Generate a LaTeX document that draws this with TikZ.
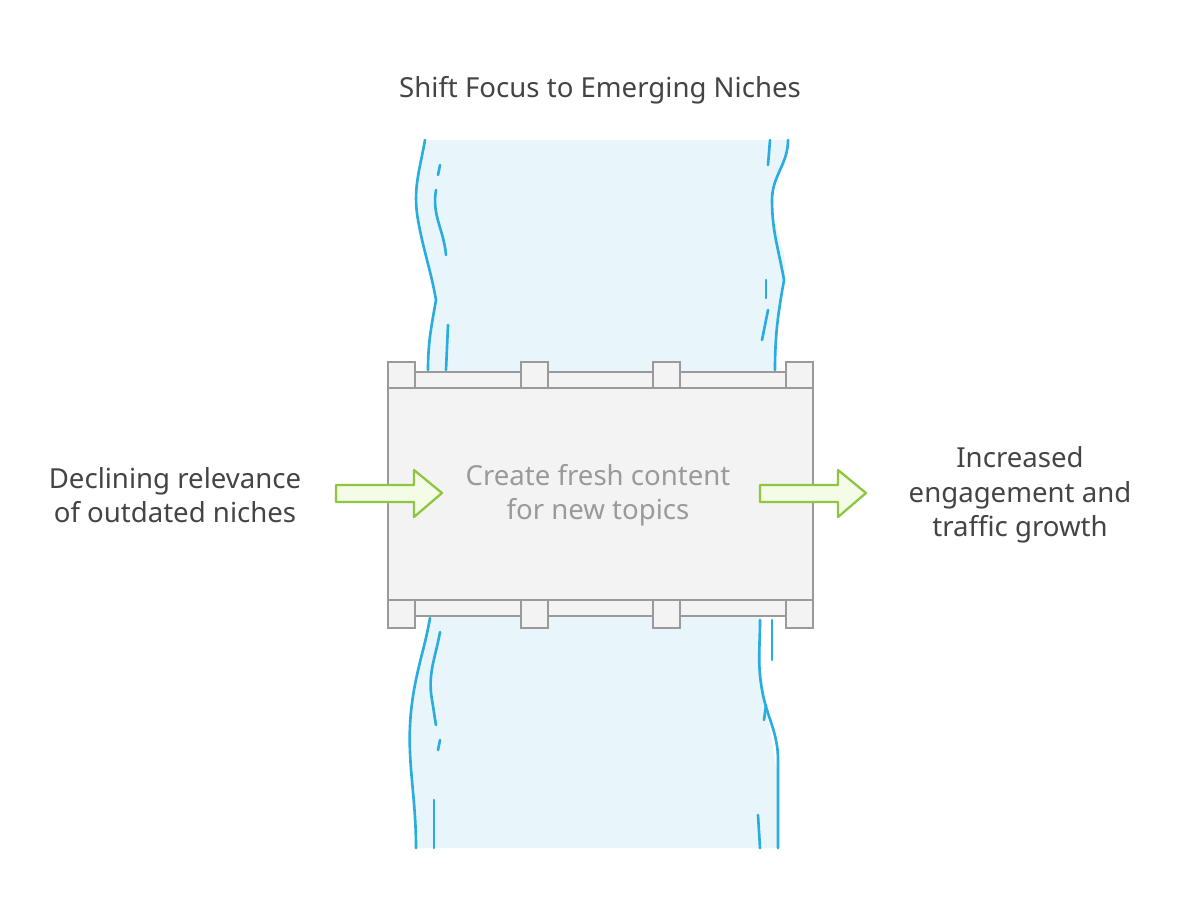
\documentclass[tikz,border=0pt]{standalone}
\usepackage{fontspec}
\setmainfont{Noto Sans}
\usetikzlibrary{calc}
\definecolor{water}{HTML}{E8F6FC}
\definecolor{bank}{HTML}{2AACDF}
\definecolor{deck}{HTML}{F3F3F3}
\definecolor{rim}{HTML}{9A9A9A}
\definecolor{arrowgreen}{HTML}{8DC63F}
\definecolor{arrowfill}{HTML}{F4FBE6}
\definecolor{ink}{HTML}{444444}
\tikzset{
  bankline/.style={bank, line width=1.5pt, line cap=round},
  post/.style={fill=deck, draw=rim, line width=1.3pt},
  flow/.style={draw=arrowgreen, fill=arrowfill, line width=1.3pt, line join=round},
  label/.style={text=ink, font=\fontsize{15.7}{19.5}\selectfont, align=center}
}
\begin{document}
\begin{tikzpicture}[x=0.02cm, y=-0.02cm]
  \useasboundingbox (0,0) rectangle (1185,921);

  % river
  \fill [water] (425,140) to[out=-100,in=100] (418,220) to[out=-80,in=100] (436,300) to[out=-100,in=90] (428,380)
     -- (428,610) to[out=-90,in=80] (414,690) to[out=-100,in=90] (416,848)
     -- (778,848) to[out=90,in=-80] (775,760) to[out=100,in=-90] (760,620)
     -- (775,370) to[out=90,in=-100] (784,280) to[out=80,in=-90] (772,200) to[out=90,in=-90] (788,140) -- cycle;
  \begin{scope}[bankline]
    \draw (425,140) to[out=-100,in=100] (418,220) to[out=-80,in=100] (436,300) to[out=-100,in=90] (428,370);
    \draw (440,165) -- (438,175);
    \draw (436,190) to[out=-100,in=95] (446,255);
    \draw (448,325) -- (446,370);
    \draw (788,140) to[out=-90,in=90] (772,200) to[out=-90,in=100] (784,280) to[out=-100,in=90] (775,370);
    \draw (770,140) -- (768,165);
    \draw (766,280) -- (766,298);
    \draw (768,310) -- (762,340);
    \draw (430,618) to[out=-100,in=80] (414,690) to[out=-100,in=90] (416,848);
    \draw (440,632) to[out=-100,in=100] (432,700) to[out=-80,in=100] (436,725);
    \draw (440,740) -- (438,750);
    \draw (434,800) -- (434,848);
    \draw (760,620) to[out=-90,in=100] (762,690) to[out=-80,in=90] (778,760) -- (778,848);
    \draw (772,620) -- (772,660);
    \draw (766,705) -- (764,720);
    \draw (758,815) -- (760,848);
  \end{scope}

  % bridge
  \draw [post] (388,372) rectangle (813,388);
  \draw [post] (388,600) rectangle (813,616);
  \draw [post] (388,388) rectangle (813,600);
  \foreach \x in {388,521,653,786} {
    \draw [post] (\x,362) rectangle ++(27,26);
    \draw [post] (\x,600) rectangle ++(27,28);
  }

  % arrows
  \draw [flow] (336,485) -- (414,485) -- (414,470) -- (442,493) -- (414,517) -- (414,502) -- (336,502) -- cycle;
  \draw [flow] (760,485) -- (838,485) -- (838,470) -- (866,493) -- (838,517) -- (838,502) -- (760,502) -- cycle;

  % texts
  \node [label] (title) at (600,90) {Shift Focus to Emerging Niches};
  \node [label] (cause) at (175,495) {Declining relevance\\of outdated niches};
  \node [label, text=rim] (action) at (598,495) {Create fresh content\\for new topics};
  \node [label] (effect) at (1020,495) {Increased\\engagement and\\traffic growth};
\end{tikzpicture}
\end{document}
